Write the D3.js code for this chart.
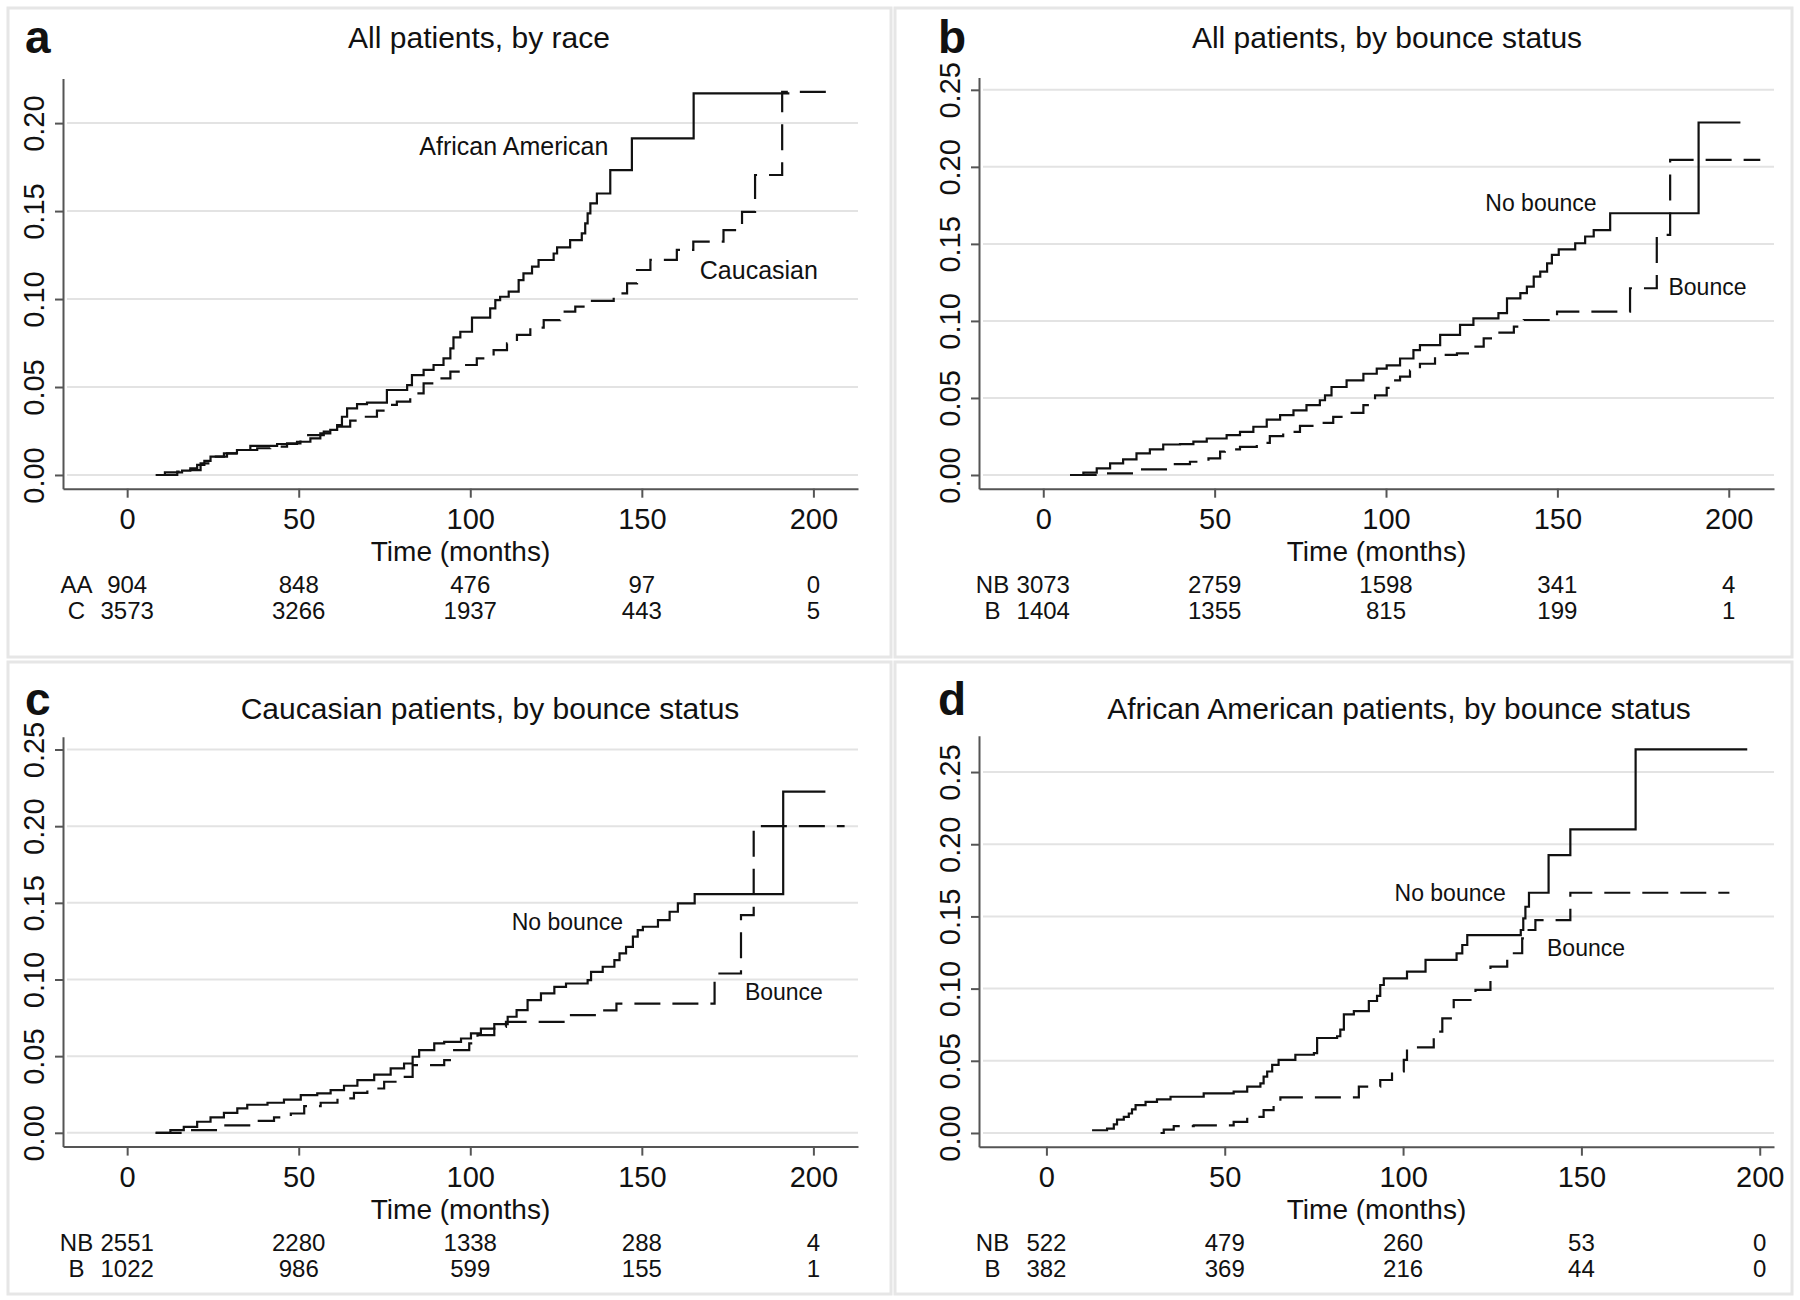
<!DOCTYPE html>
<html>
<head>
<meta charset="utf-8">
<script src="https://cdn.jsdelivr.net/npm/d3@7"></script>
<style>
  body { margin: 0; background: #fff; }
  svg text { font-family: "Liberation Sans", Arial, sans-serif; fill: #111; }
</style>
</head>
<body>
<svg id="chart" width="1800" height="1300"></svg>
<script>
// tick values shared by all panels
const timeTicks = [0, 50, 100, 150, 200];
const yTicksA = [0, 0.05, 0.10, 0.15, 0.20];
const yTicksBCD = [0, 0.05, 0.10, 0.15, 0.20, 0.25];

const titles = [
  'All patients, by race',
  'All patients, by bounce status',
  'Caucasian patients, by bounce status',
  'African American patients, by bounce status'
];

// cumulative incidence steps: [months, value] (value holds from that time on)
const aAfricanAmerican = [[8.3,0],[11,0.0015],[16,0.0025],[18.4,0.0038],[20.4,0.0057],[22.5,0.008],[24.3,0.0104],[28.2,0.0123],[32,0.0142],[35.9,0.0165],[43.7,0.0176],[49.5,0.0189],[53.4,0.0208],[56.3,0.0237],[59.2,0.0256],[61.2,0.0284],[62.6,0.0331],[64.1,0.0379],[67,0.0403],[69.9,0.0411],[75.7,0.0483],[81.6,0.0511],[83,0.0568],[86.4,0.0597],[89.3,0.0625],[92.2,0.0663],[94.2,0.072],[95.1,0.0782],[97.1,0.0814],[100.5,0.0894],[105.8,0.0947],[107.3,0.0994],[108.7,0.1013],[111.2,0.1042],[114.1,0.1108],[115.5,0.1146],[118,0.1184],[119.9,0.1222],[124.3,0.1259],[125.3,0.1294],[129.1,0.1335],[132.5,0.1373],[133.5,0.143],[134.2,0.1487],[135,0.1544],[136.9,0.16],[140.8,0.1733],[147.1,0.1913],[165.1,0.2169],[193,0.2169]];
const aCaucasian = [[8.7,0],[14.6,0.0019],[18.4,0.0028],[21.4,0.0066],[25.2,0.0104],[29.1,0.0123],[34,0.0142],[37.9,0.0152],[41.7,0.0161],[46.6,0.018],[50.5,0.0199],[52.4,0.0227],[57.3,0.0246],[61.2,0.0275],[65,0.0309],[68.9,0.0331],[72.8,0.0366],[75.7,0.0398],[78.6,0.0417],[82.5,0.0464],[86.4,0.0521],[90.3,0.0549],[94.2,0.0587],[98.1,0.0625],[101.9,0.0663],[106.8,0.071],[110.7,0.0748],[113.6,0.0796],[117.5,0.0838],[121.4,0.088],[126.2,0.0929],[130.6,0.0957],[135,0.099],[141.8,0.1032],[145.7,0.1089],[148.6,0.1165],[152.5,0.1223],[160.2,0.1279],[165,0.1326],[173.8,0.1392],[179.2,0.1496],[183,0.1705],[190.9,0.2178],[205.4,0.2178]];

const bNoBounce = [[7.8,0],[11.7,0.0015],[15.6,0.0043],[19.5,0.0075],[23.3,0.0101],[27.2,0.014],[31.1,0.0166],[35,0.0198],[39.9,0.02],[43.8,0.0216],[47.7,0.0237],[53.5,0.0259],[57.4,0.028],[61.3,0.0313],[65.2,0.036],[69.1,0.0388],[73,0.042],[76.8,0.0453],[80.7,0.0485],[82.2,0.0517],[84.1,0.0571],[88.5,0.0614],[93.4,0.0657],[97.3,0.069],[100.2,0.0711],[104.1,0.0756],[108,0.081],[109.9,0.0843],[115.8,0.0909],[121.6,0.0974],[125.5,0.1017],[132.8,0.105],[135.3,0.1147],[139.2,0.118],[141.1,0.1223],[143.1,0.1288],[145,0.132],[147,0.1374],[148.4,0.1429],[150.4,0.1465],[155.2,0.1504],[158.1,0.1548],[160.6,0.159],[165.4,0.1699],[191.2,0.2288],[203.4,0.2288]];
const bBounce = [[8,0],[16.5,0.0011],[26.8,0.0037],[37.9,0.0071],[42.8,0.0086],[48.2,0.0108],[51.6,0.0151],[53,0.0166],[57.4,0.0183],[62.3,0.0209],[66.1,0.0252],[70,0.028],[74.9,0.0319],[79.8,0.0338],[84.6,0.0377],[89.5,0.0403],[93.4,0.0453],[96.8,0.0517],[100.2,0.0565],[101.7,0.0614],[104.1,0.0638],[107,0.0679],[109.9,0.0722],[114.3,0.0779],[120.7,0.079],[124.6,0.0833],[128.5,0.0887],[132.4,0.0924],[137.3,0.0963],[140.2,0.1006],[149.9,0.106],[171.2,0.1212],[179,0.1558],[182.9,0.2045],[209.2,0.2045]];

const cNoBounce = [[8.3,0],[12.6,0.0017],[16.5,0.0039],[20.4,0.0072],[24.3,0.01],[28.2,0.013],[32.1,0.0159],[35,0.0183],[40.9,0.0196],[45.7,0.0217],[50.6,0.0246],[55.4,0.0257],[59.3,0.0278],[63.2,0.0307],[67.1,0.0343],[72,0.038],[76.8,0.042],[80.7,0.0452],[83.2,0.0496],[85.1,0.0539],[89.5,0.0583],[92.4,0.0593],[97.3,0.0615],[100.2,0.0648],[103.1,0.068],[107,0.0709],[110.9,0.0757],[113.5,0.08],[116.7,0.0866],[120.6,0.0909],[124.5,0.0952],[127.9,0.0974],[134.2,0.0996],[135.2,0.105],[138.6,0.1083],[142,0.1126],[143.5,0.117],[145.4,0.1213],[147.4,0.1279],[148.8,0.1322],[150.3,0.1344],[154.7,0.1387],[158.1,0.1442],[160.5,0.1496],[165.4,0.1557],[191.2,0.2225],[203.5,0.2225]];
const cBounce = [[8.3,0],[16.5,0.0017],[26.3,0.0048],[37.9,0.0078],[42.8,0.01],[47.7,0.0126],[51.6,0.0174],[56.4,0.0196],[61.3,0.0224],[66.1,0.0261],[70,0.0289],[74.9,0.0333],[78.8,0.0365],[83.2,0.0441],[92.4,0.0474],[95.3,0.0539],[99.7,0.0583],[102.1,0.0637],[107,0.0691],[110.4,0.0724],[127.9,0.0768],[138.1,0.0799],[142.6,0.0843],[171.2,0.1039],[178.9,0.142],[182.6,0.2001],[209.1,0.2001]];

const dNoBounce = [[12.8,0.0019],[17,0.003],[18.9,0.006],[19.8,0.0093],[21.7,0.0112],[23.1,0.0135],[24,0.0163],[25,0.0193],[27.8,0.0216],[31,0.0233],[34.8,0.0251],[44.1,0.0274],[52.5,0.0286],[56.3,0.0321],[60,0.0344],[60.9,0.0391],[61.9,0.0426],[63.3,0.0472],[65.1,0.0507],[69.8,0.0542],[75,0.0553],[75.9,0.0658],[81.5,0.067],[82.4,0.0716],[83.4,0.0821],[86.2,0.0844],[90.4,0.0914],[92.7,0.0949],[93.6,0.1025],[94.6,0.1071],[101.1,0.1117],[106.3,0.1199],[115,0.1244],[116.6,0.1302],[118,0.1371],[133,0.1406],[133.7,0.1486],[134.3,0.1567],[135.3,0.1664],[140.8,0.1925],[146.9,0.2103],[165.2,0.2657],[196.5,0.2657]];
const dBounce = [[32,0],[32.9,0.0023],[35.7,0.0047],[41.3,0.0053],[52.5,0.0077],[56.3,0.0112],[60.9,0.0158],[63.7,0.0216],[65.6,0.0247],[87.6,0.0321],[93.6,0.0367],[96.9,0.0426],[100.2,0.0507],[101.1,0.0593],[108.6,0.0702],[111,0.0794],[114.2,0.0921],[120.3,0.0991],[124.5,0.1152],[129.2,0.1245],[133.4,0.1348],[134.8,0.1406],[137.1,0.1475],[146.9,0.1664],[191.5,0.1664]];

// numbers at risk at timeTicks
const riskAA = [904, 848, 476, 97, 0];
const riskC = [3573, 3266, 1937, 443, 5];
const riskAllNB = [3073, 2759, 1598, 341, 4];
const riskAllB = [1404, 1355, 815, 199, 1];
const riskCauNB = [2551, 2280, 1338, 288, 4];
const riskCauB = [1022, 986, 599, 155, 1];
const riskAfrNB = [522, 479, 260, 53, 0];
const riskAfrB = [382, 369, 216, 44, 0];

const panels = [
  { letter: 'a', title: titles[0], titleX: 479, titleY: 48, letterX: 25, letterY: 53,
    box: [8, 8, 883, 649], plot: { left: 63, right: 858, top: 78.6, bottom: 488.7 },
    xDomain: [-18.7, 213], yDomain: [-0.0078, 0.2253], yTicks: yTicksA, labelSize: 25,
    series: [
      { data: aAfricanAmerican, dashed: false, label: 'African American', at: [112.7, 0.187] },
      { data: aCaucasian, dashed: true, label: 'Caucasian', at: [184.1, 0.1161] }
    ],
    riskNames: ['AA', 'C'], risk: [riskAA, riskC] },
  { letter: 'b', title: titles[1], titleX: 1387, titleY: 48, letterX: 938, letterY: 53,
    box: [895, 8, 897, 649], plot: { left: 979, right: 1774, top: 77.5, bottom: 488.7 },
    xDomain: [-18.75, 213.2], yDomain: [-0.0089, 0.258], yTicks: yTicksBCD, labelSize: 23,
    series: [
      { data: bNoBounce, dashed: false, label: 'No bounce', at: [145.2, 0.1764] },
      { data: bBounce, dashed: true, label: 'Bounce', at: [193.8, 0.1223] }
    ],
    riskNames: ['NB', 'B'], risk: [riskAllNB, riskAllB] },
  { letter: 'c', title: titles[2], titleX: 490, titleY: 719, letterX: 25, letterY: 715,
    box: [8, 662, 883, 632], plot: { left: 63, right: 858, top: 736.8, bottom: 1146.6 },
    xDomain: [-18.7, 213], yDomain: [-0.0090, 0.2583], yTicks: yTicksBCD, labelSize: 23,
    series: [
      { data: cNoBounce, dashed: false, label: 'No bounce', at: [128.3, 0.1376] },
      { data: cBounce, dashed: true, label: 'Bounce', at: [191.4, 0.092] }
    ],
    riskNames: ['NB', 'B'], risk: [riskCauNB, riskCauB] },
  { letter: 'd', title: titles[3], titleX: 1399, titleY: 719, letterX: 938, letterY: 715,
    box: [895, 662, 897, 632], plot: { left: 979, right: 1774, top: 735.8, bottom: 1146.7 },
    xDomain: [-18.9, 204], yDomain: [-0.0095, 0.2751], yTicks: yTicksBCD, labelSize: 23,
    series: [
      { data: dNoBounce, dashed: false, label: 'No bounce', at: [113.2, 0.166] },
      { data: dBounce, dashed: true, label: 'Bounce', at: [151.3, 0.1279] }
    ],
    riskNames: ['NB', 'B'], risk: [riskAfrNB, riskAfrB] }
];

const svg = d3.select('#chart');
svg.append('rect').attr('width', 1800).attr('height', 1300).attr('fill', '#fff');

const fmt = d3.format('.2f');

panels.forEach(p => {
  const g = svg.append('g');
  const { left, right, top, bottom } = p.plot;

  g.append('rect')
    .attr('x', p.box[0]).attr('y', p.box[1])
    .attr('width', p.box[2]).attr('height', p.box[3])
    .attr('fill', '#fff').attr('stroke', '#e6e6e6').attr('stroke-width', 3);

  const x = d3.scaleLinear().domain(p.xDomain).range([left, right]);
  const y = d3.scaleLinear().domain(p.yDomain).range([bottom, top]);

  // grid
  g.append('g').selectAll('line').data(p.yTicks).join('line')
    .attr('x1', left + 4).attr('x2', right)
    .attr('y1', d => y(d)).attr('y2', d => y(d))
    .attr('stroke', '#e3e3e3').attr('stroke-width', 2);

  // axes
  const xAxis = g.append('g')
    .attr('transform', `translate(0,${bottom})`)
    .call(d3.axisBottom(x).tickValues(timeTicks).tickSize(9).tickSizeOuter(0));
  xAxis.selectAll('text').attr('font-size', 29).attr('dy', null).attr('y', 40);

  const yAxis = g.append('g')
    .attr('transform', `translate(${left},0)`)
    .call(d3.axisLeft(y).tickValues(p.yTicks).tickFormat(fmt).tickSize(8).tickSizeOuter(0));
  yAxis.selectAll('text')
    .attr('font-size', 29)
    .attr('text-anchor', 'middle')
    .attr('transform', 'rotate(-90)')
    .attr('x', 0).attr('y', -29).attr('dy', '0.35em');

  [xAxis, yAxis].forEach(ax => {
    ax.attr('font-family', null);
    ax.select('.domain').attr('stroke', '#555').attr('stroke-width', 2);
    ax.selectAll('.tick line').attr('stroke', '#555').attr('stroke-width', 2);
  });

  g.append('text')
    .attr('x', (left + right) / 2).attr('y', bottom + 72)
    .attr('text-anchor', 'middle').attr('font-size', 28)
    .text('Time (months)');

  // number at risk table
  p.risk.forEach((row, i) => {
    const rowY = bottom + 104 + i * 26.5;
    g.append('text')
      .attr('x', left + 13.5).attr('y', rowY)
      .attr('text-anchor', 'middle').attr('font-size', 24)
      .text(p.riskNames[i]);
    g.append('g').selectAll('text').data(row).join('text')
      .attr('x', (d, k) => x(timeTicks[k])).attr('y', rowY)
      .attr('text-anchor', 'middle').attr('font-size', 24)
      .text(d => d);
  });

  // curves
  const line = d3.line()
    .x(d => x(d[0])).y(d => y(d[1]))
    .curve(d3.curveStepAfter);

  p.series.forEach(s => {
    g.append('path')
      .datum(s.data)
      .attr('d', line)
      .attr('fill', 'none')
      .attr('stroke', '#111')
      .attr('stroke-width', 2.2)
      .attr('stroke-dasharray', s.dashed ? '26,12' : null);

    g.append('text')
      .attr('x', x(s.at[0])).attr('y', y(s.at[1]))
      .attr('dy', '0.35em')
      .attr('text-anchor', 'middle')
      .attr('font-size', p.labelSize)
      .text(s.label);
  });

  g.append('text')
    .attr('x', p.titleX).attr('y', p.titleY)
    .attr('text-anchor', 'middle').attr('font-size', 30)
    .text(p.title);

  g.append('text')
    .attr('x', p.letterX).attr('y', p.letterY)
    .attr('font-size', 46).attr('font-weight', 'bold')
    .text(p.letter);
});
</script>
</body>
</html>
